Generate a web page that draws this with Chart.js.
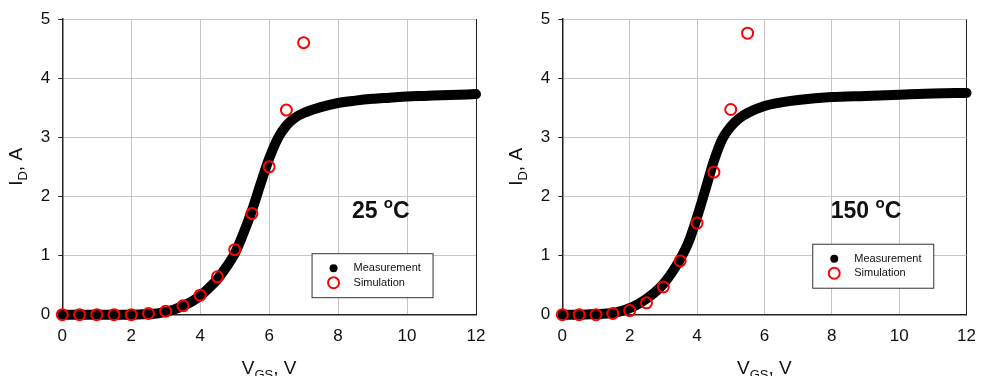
<!DOCTYPE html>
<html>
<head>
<meta charset="utf-8">
<script src="https://cdn.jsdelivr.net/npm/chart.js@4"></script>
<style>
  html, body { margin: 0; padding: 0; background: #fff; }
  body { width: 987px; height: 376px; position: relative; overflow: hidden; }
  .panel { position: absolute; top: 0; height: 376px; }
  #p25 { left: 0; width: 500px; }
  #p150 { left: 500px; width: 487px; }
</style>
</head>
<body>
<div class="panel" id="p25"><canvas id="c25"></canvas></div>
<div class="panel" id="p150"><canvas id="c150"></canvas></div>
<script>
// ---- data (V_GS in V, I_D in A) ----
const xTicks = [0, 2, 4, 6, 8, 10, 12];
const yTicks = [0, 1, 2, 3, 4, 5];

// 25 C
const vgs25Meas = [0, 0.5, 1, 1.5, 2, 2.5, 2.75, 3, 3.25, 3.5, 3.75, 4, 4.25, 4.5, 4.75, 5, 5.25, 5.5, 5.75, 6, 6.25, 6.5, 6.75, 7, 7.5, 8, 8.5, 9, 9.5, 10, 10.5, 11, 11.5, 12];
const id25Meas  = [0, 0, 0, 0, 0, 0.01, 0.02, 0.05, 0.09, 0.15, 0.22, 0.32, 0.45, 0.6, 0.8, 1.03, 1.37, 1.76, 2.21, 2.64, 2.98, 3.2, 3.33, 3.41, 3.51, 3.58, 3.62, 3.65, 3.67, 3.69, 3.70, 3.71, 3.72, 3.73];
const vgs25Sim = [0, 0.5, 1, 1.5, 2, 2.5, 3, 3.5, 4, 4.5, 5, 5.5, 6, 6.5, 7];
const id25Sim  = [0, 0, 0, 0, 0, 0.02, 0.06, 0.15, 0.33, 0.64, 1.1, 1.71, 2.5, 3.46, 4.6];

// 150 C
const vgs150Meas = [0, 0.5, 1, 1.5, 1.75, 2, 2.25, 2.5, 2.75, 3, 3.25, 3.5, 3.75, 4, 4.25, 4.5, 4.75, 5, 5.25, 5.5, 6, 6.5, 7, 8, 9, 10, 11, 12];
const id150Meas  = [0, 0, 0.01, 0.03, 0.06, 0.11, 0.18, 0.27, 0.38, 0.52, 0.71, 0.94, 1.23, 1.65, 2.12, 2.6, 2.97, 3.18, 3.32, 3.41, 3.53, 3.59, 3.63, 3.68, 3.70, 3.72, 3.74, 3.75];
const vgs150Sim = [0, 0.5, 1, 1.5, 2, 2.5, 3, 3.5, 4, 4.5, 5, 5.5];
const id150Sim  = [0, 0, 0, 0.02, 0.07, 0.2, 0.47, 0.91, 1.55, 2.41, 3.47, 4.76];

const FONT = "'Liberation Sans', Arial, sans-serif";
const GRID = '#c6c6c6';
const AXIS = '#222';

const pts = (xs, ys) => xs.map((x, i) => ({ x, y: ys[i] }));

// Draws axis titles with subscripts, the temperature tag and the boxed legend
const overlay = {
  id: 'overlay',
  afterDraw(chart, args, o) {
    const { ctx, chartArea: ca, scales: { x, y } } = chart;
    ctx.save();
    ctx.fillStyle = '#111';
    ctx.textBaseline = 'alphabetic';

    const parts = (segs) => {
      let w = 0;
      segs.forEach(s => { ctx.font = s.f; w += ctx.measureText(s.t).width; });
      return w;
    };
    const drawSegs = (segs, x0, y0) => {
      let cx = x0;
      segs.forEach(s => {
        ctx.font = s.f;
        ctx.fillText(s.t, cx, y0 + (s.dy || 0));
        cx += ctx.measureText(s.t).width;
      });
    };

    // x title: V_GS, V
    const xt = [{ t: 'V', f: '19px ' + FONT }, { t: 'GS', f: '13px ' + FONT, dy: 5 }, { t: ', V', f: '19px ' + FONT }];
    ctx.textAlign = 'left';
    drawSegs(xt, (ca.left + ca.right) / 2 - parts(xt) / 2, 374);

    // y title: I_D, A (rotated)
    const yt = [{ t: 'I', f: '19px ' + FONT }, { t: 'D', f: '13px ' + FONT, dy: 5 }, { t: ', A', f: '19px ' + FONT }];
    ctx.save();
    ctx.translate(22, (ca.top + ca.bottom) / 2);
    ctx.rotate(-Math.PI / 2);
    drawSegs(yt, -parts(yt) / 2, 0);
    ctx.restore();

    // temperature tag
    const tx = x.getPixelForValue(o.tempAt[0]);
    const ty = y.getPixelForValue(o.tempAt[1]);
    drawSegs([
      { t: o.temp + ' ', f: 'bold 23px ' + FONT },
      { t: 'o', f: 'bold 15px ' + FONT, dy: -10 },
      { t: 'C', f: 'bold 23px ' + FONT }
    ], tx, ty);

    // legend box
    const lx = x.getPixelForValue(o.legendAt[0]);
    const ly = y.getPixelForValue(o.legendAt[1]);
    const bw = 121, bh = 44;
    ctx.fillStyle = '#fff';
    ctx.fillRect(lx, ly, bw, bh);
    ctx.strokeStyle = '#333';
    ctx.lineWidth = 1;
    ctx.strokeRect(lx + 0.5, ly + 0.5, bw, bh);

    ctx.fillStyle = '#000';
    ctx.beginPath();
    ctx.arc(lx + 22, ly + 15, 4, 0, Math.PI * 2);
    ctx.fill();
    ctx.strokeStyle = '#ff0000';
    ctx.lineWidth = 2;
    ctx.beginPath();
    ctx.arc(lx + 22, ly + 29.5, 5.5, 0, Math.PI * 2);
    ctx.stroke();

    ctx.fillStyle = '#111';
    ctx.font = '11px ' + FONT;
    ctx.textBaseline = 'middle';
    ctx.fillText('Measurement', lx + 42, ly + 15);
    ctx.fillText('Simulation', lx + 42, ly + 29.5);
    ctx.restore();
  }
};

function makeChart(id, meas, sim, padRight, overlayOpts) {
  return new Chart(document.getElementById(id), {
    type: 'line',
    data: {
      datasets: [
        {
          label: 'Measurement',
          data: meas,
          order: 2,
          borderColor: '#000',
          backgroundColor: '#000',
          borderWidth: 10,
          borderCapStyle: 'round',
          borderJoinStyle: 'round',
          cubicInterpolationMode: 'monotone',
          pointRadius: 0,
          clip: false,
        },
        {
          label: 'Simulation',
          data: sim,
          order: 1,
          showLine: false,
          pointStyle: 'circle',
          pointRadius: 5.5,
          pointBorderWidth: 2,
          pointBorderColor: '#ff0000',
          pointBackgroundColor: 'rgba(0,0,0,0)',
          clip: false,
        },
      ],
    },
    options: {
      responsive: true,
      maintainAspectRatio: false,
      animation: false,
      layout: { padding: { top: 19, right: padRight, left: 0, bottom: 0 } },
      plugins: { legend: { display: false }, tooltip: { enabled: false }, overlay: overlayOpts },
      scales: {
        x: {
          type: 'linear',
          min: 0, max: 12,
          afterBuildTicks: s => { s.ticks = xTicks.map(v => ({ value: v })); },
          afterFit: s => { s.height = 61.3; },
          border: { color: AXIS, width: 1.5 },
          grid: { color: c => (c.tick && c.tick.value === 12 ? AXIS : GRID), drawTicks: false },
          ticks: { color: '#111', font: { family: FONT, size: 17 }, padding: 11, maxRotation: 0 },
        },
        y: {
          min: 0, max: 5,
          afterBuildTicks: s => { s.ticks = yTicks.map(v => ({ value: v })); },
          afterFit: s => { s.width = 62.3; },
          border: { color: AXIS, width: 1.5 },
          grid: { color: GRID, tickColor: AXIS, tickLength: 4 },
          ticks: { color: '#111', font: { family: FONT, size: 17 }, padding: 8 },
        },
      },
    },
    plugins: [overlay],
  });
}

makeChart('c25', pts(vgs25Meas, id25Meas), pts(vgs25Sim, id25Sim), 24,
  { temp: '25', tempAt: [8.4, 1.64], legendAt: [7.23, 1.04] });
makeChart('c150', pts(vgs150Meas, id150Meas), pts(vgs150Sim, id150Sim), 12,
  { temp: '150', tempAt: [7.97, 1.64], legendAt: [7.42, 1.2] });
</script>
</body>
</html>
